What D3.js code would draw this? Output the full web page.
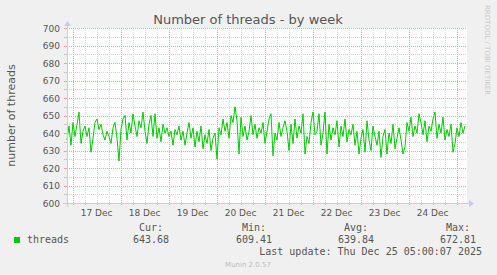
<!DOCTYPE html>
<html>
<head>
<meta charset="utf-8">
<script src="https://cdn.jsdelivr.net/npm/d3@7"></script>
<style>
  body { margin: 0; background: #f0f0f0; }
  svg { display: block; }
</style>
</head>
<body>
<div id="chart"></div>
<script>
// hourly samples of the thread count (Dec 16 21:10 UTC onward)
var threadValues = [
  636, 644, 633, 646, 638, 645, 652, 634, 641, 644,
  638, 643, 629, 637, 646, 648, 642, 645, 639, 636,
  641, 638, 634, 643, 646, 637, 624,
  642, 648, 650, 636, 646, 640, 651, 644, 638, 647, 643, 652, 641,
  634, 645, 650, 638, 651, 637, 643,
  635, 645, 640, 643, 638, 641, 633, 642, 639,
  644, 636, 641, 633, 640, 646, 637, 643,
  632, 641, 635, 644, 631, 639, 634, 642, 630, 637, 640, 625,
  643, 639, 648, 641, 646, 637, 650, 646, 655,
  647, 628, 649, 638, 644, 636, 641,
  650, 639, 645, 637, 643, 640, 646, 634, 641, 648,
  651, 627, 640, 636, 646, 638, 643, 647, 641, 630,
  645, 634, 648, 637, 644, 640, 651, 628, 638, 634,
  646, 652, 639, 641, 651, 633, 640, 652, 628, 645,
  636, 643, 639, 647, 632, 644, 638, 648, 635, 642,
  639, 645, 633, 641, 628, 637,
  642, 629, 647, 636, 630, 644, 638, 633, 641, 626,
  638, 642, 628, 640, 634, 645, 631, 637, 643, 636,
  628, 632, 646, 641, 649, 638, 644, 640, 651, 646,
  639, 647, 635, 644, 641, 648, 652, 637, 645, 640,
  649, 636, 642, 638, 645, 629, 634, 643, 638, 646, 640, 644
];
var yTicks = [600, 610, 620, 630, 640, 650, 660, 670, 680, 690, 700];
var statLabels = ['Cur:', 'Min:', 'Avg:', 'Max:'];
var statValues = ['643.68', '609.41', '639.84', '672.81'];
var seriesName = 'threads';
var lastUpdate = 'Last update: Thu Dec 25 05:00:07 2025';

var W = 497, H = 275;
var padL = 67, padT = 28, pw = 400, ph = 175;
var endTime = new Date(Date.UTC(2025, 11, 25, 5, 10));
var startTime = new Date(endTime.getTime() - 200 * 3600 * 1000);

var data = threadValues.map(function(v, i) {
  return { t: d3.utcHour.offset(startTime, i), v: v };
});

var x = d3.scaleUtc().domain([startTime, endTime]).range([padL, padL + pw]);
var y = d3.scaleLinear().domain([600, 700]).range([padT + ph, padT]);

var svg = d3.select('#chart').append('svg')
  .attr('width', W)
  .attr('height', H)
  .style('font-family', 'DejaVu Sans');

// background
svg.append('rect').attr('width', W).attr('height', H).style('fill', '#f0f0f0');

// canvas
svg.append('rect')
  .attr('x', padL).attr('y', padT)
  .attr('width', pw).attr('height', ph)
  .style('fill', '#ffffff');

// minor grid (every 5 and every 6 hours)
var minorY = d3.range(605, 700, 10);
svg.selectAll('.gy').data(minorY).enter().append('line')
  .attr('x1', padL).attr('x2', padL + pw)
  .attr('y1', function(d) { return Math.round(y(d)) + 0.5; })
  .attr('y2', function(d) { return Math.round(y(d)) + 0.5; })
  .style('stroke', '#d4d4d4').style('stroke-dasharray', '1,1');

var sixHours = d3.utcHour.every(6).range(startTime, endTime).filter(function(d) {
  return d.getUTCHours() !== 0;
});
svg.selectAll('.gx').data(sixHours).enter().append('line')
  .attr('x1', function(d) { return Math.round(x(d)) + 0.5; })
  .attr('x2', function(d) { return Math.round(x(d)) + 0.5; })
  .attr('y1', padT).attr('y2', padT + ph)
  .style('stroke', '#d4d4d4').style('stroke-dasharray', '1,1');

// minor ticks below the time axis
svg.selectAll('.tx').data(sixHours).enter().append('line')
  .attr('x1', function(d) { return Math.round(x(d)) + 0.5; })
  .attr('x2', function(d) { return Math.round(x(d)) + 0.5; })
  .attr('y1', padT + ph).attr('y2', padT + ph + 2)
  .style('stroke', '#bbbbbb');

// major grid
svg.selectAll('.my').data(yTicks.slice(1)).enter().append('line')
  .attr('x1', padL).attr('x2', padL + pw)
  .attr('y1', function(d) { return Math.round(y(d)) + 0.5; })
  .attr('y2', function(d) { return Math.round(y(d)) + 0.5; })
  .style('stroke', '#f0a0a0').style('stroke-dasharray', '1,1');

var days = d3.utcDay.range(startTime, endTime);
svg.selectAll('.mx').data(days).enter().append('line')
  .attr('x1', function(d) { return Math.round(x(d)) + 0.5; })
  .attr('x2', function(d) { return Math.round(x(d)) + 0.5; })
  .attr('y1', padT).attr('y2', padT + ph + 3)
  .style('stroke', '#f0a0a0').style('stroke-dasharray', '1,1');

// y tick marks
svg.selectAll('.ty').data(d3.range(600, 701, 5)).enter().append('line')
  .attr('x1', padL - 3).attr('x2', padL)
  .attr('y1', function(d) { return Math.round(y(d)) + 0.5; })
  .attr('y2', function(d) { return Math.round(y(d)) + 0.5; })
  .style('stroke', function(d) { return d % 10 === 0 ? '#f0a0a0' : '#c8c8c8'; });

// the series
var line = d3.line()
  .x(function(d) { return x(d.t); })
  .y(function(d) { return y(d.v); });
svg.append('path')
  .datum(data)
  .attr('d', line)
  .style('fill', 'none')
  .style('stroke', '#00cc00')
  .style('stroke-width', 1);

// axes with arrows
var axisCol = '#c8c8ff';
svg.append('line')
  .attr('x1', padL - 4).attr('x2', padL + pw + 2)
  .attr('y1', padT + ph + 0.5).attr('y2', padT + ph + 0.5)
  .style('stroke', axisCol);
svg.append('line')
  .attr('x1', padL + 0.5).attr('x2', padL + 0.5)
  .attr('y1', padT + ph + 4).attr('y2', padT - 4)
  .style('stroke', axisCol);
svg.append('path')
  .attr('d', 'M' + (padL + pw + 2) + ',' + (padT + ph - 3) + 'L' + (padL + pw + 7) + ',' + (padT + ph + 0.5) + 'L' + (padL + pw + 2) + ',' + (padT + ph + 4) + 'Z')
  .style('fill', axisCol);
svg.append('path')
  .attr('d', 'M' + (padL - 3) + ',' + (padT - 2) + 'L' + (padL + 0.5) + ',' + (padT - 7) + 'L' + (padL + 4) + ',' + (padT - 2) + 'Z')
  .style('fill', axisCol);

// y labels
svg.selectAll('.ly').data(yTicks).enter().append('text')
  .attr('x', padL - 7)
  .attr('y', function(d) { return y(d) + 3.5; })
  .attr('text-anchor', 'end')
  .style('font-size', '9px')
  .style('fill', '#555555')
  .text(function(d) { return d; });

// x labels at noon
var noons = days.map(function(d) { return d3.utcHour.offset(d, 12); })
  .filter(function(d) { return d < endTime; });
var fmt = d3.utcFormat('%d %b');
svg.selectAll('.lx').data(noons).enter().append('text')
  .attr('x', function(d) { return x(d); })
  .attr('y', padT + ph + 13)
  .attr('text-anchor', 'middle')
  .style('font-size', '9px')
  .style('fill', '#555555')
  .text(function(d) { return fmt(d); });

// title
svg.append('text')
  .attr('x', 248).attr('y', 24)
  .attr('text-anchor', 'middle')
  .style('font-size', '13px')
  .style('fill', '#555555')
  .text('Number of threads - by week');

// vertical label
svg.append('text')
  .attr('transform', 'translate(15,' + (padT + ph / 2) + ') rotate(-90)')
  .attr('text-anchor', 'middle')
  .style('font-size', '11px')
  .style('fill', '#555555')
  .text('number of threads');

svg.append('text')
  .attr('transform', 'translate(485,5) rotate(90)')
  .style('font-size', '7px')
  .style('fill', '#c8c8c8')
  .text('RRDTOOL / TOBI OETIKER');

// legend
var mono = 'DejaVu Sans Mono';
svg.append('rect')
  .attr('x', 14).attr('y', 237)
  .attr('width', 6).attr('height', 6)
  .style('fill', '#00cc00');
svg.append('text')
  .attr('x', 27).attr('y', 243)
  .style('font-family', mono).style('font-size', '10px').style('fill', '#555555')
  .text(seriesName);

var colRight = [163, 266, 368, 470];
svg.selectAll('.sl').data(statLabels).enter().append('text')
  .attr('x', function(d, i) { return colRight[i]; })
  .attr('y', 231)
  .attr('text-anchor', 'end')
  .style('font-family', mono).style('font-size', '10px').style('fill', '#555555')
  .text(function(d) { return d; });
svg.selectAll('.sv').data(statValues).enter().append('text')
  .attr('x', function(d, i) { return colRight[i] + 6; })
  .attr('y', 243)
  .attr('text-anchor', 'end')
  .style('font-family', mono).style('font-size', '10px').style('fill', '#555555')
  .text(function(d) { return d; });

svg.append('text')
  .attr('x', 482).attr('y', 255)
  .attr('text-anchor', 'end')
  .style('font-family', mono).style('font-size', '10px').style('fill', '#555555')
  .text(lastUpdate);

svg.append('text')
  .attr('x', 248).attr('y', 267)
  .attr('text-anchor', 'middle')
  .style('font-size', '7px')
  .style('fill', '#bbbbbb')
  .text('Munin 2.0.57');
</script>
</body>
</html>
